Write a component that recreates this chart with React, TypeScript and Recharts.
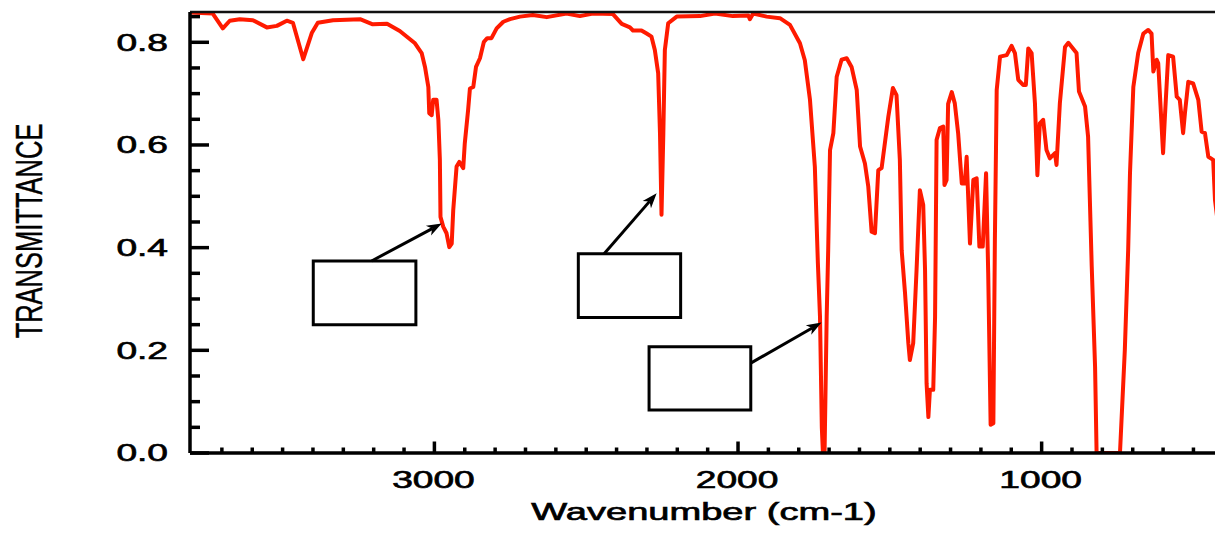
import React from 'react';
import { LineChart, Line, XAxis, YAxis, ReferenceArea, ReferenceLine } from 'recharts';

// Wavenumber (cm-1), left to right
const wavenumbers = [
  3805, 3730, 3697, 3674, 3641, 3598, 3552, 3519, 3486, 3466, 3432, 3404, 3384, 3334, 3245, 3203, 3156, 3114,
  3064, 3042, 3031, 3020, 3017, 3009, 3004, 2993, 2987, 2982, 2980, 2971, 2960, 2951, 2943, 2938, 2927, 2918,
  2905, 2900, 2889, 2883, 2872, 2863, 2850, 2837, 2826, 2812, 2795, 2773, 2751, 2718, 2676, 2630, 2565, 2521,
  2478, 2412, 2383, 2356, 2346, 2318, 2301, 2285, 2274, 2263, 2257, 2252, 2246, 2241, 2230, 2202, 2125, 2076,
  2017, 1966, 1961, 1950, 1906, 1862, 1829, 1796, 1780, 1763, 1747, 1737, 1730, 1724, 1720, 1715, 1708, 1703,
  1697, 1686, 1675, 1659, 1642, 1626, 1609, 1598, 1582, 1571, 1560, 1549, 1538, 1527, 1505, 1490, 1478, 1467,
  1461, 1450, 1439, 1434, 1423, 1412, 1401, 1390, 1384, 1379, 1373, 1368, 1357, 1351, 1346, 1335, 1324, 1320,
  1313, 1308, 1296, 1286, 1275, 1263, 1253, 1247, 1236, 1225, 1214, 1205, 1194, 1183, 1176, 1168, 1159, 1154,
  1148, 1137, 1115, 1099, 1088, 1077, 1061, 1052, 1044, 1033, 1022, 1014, 1006, 995, 984, 973, 956, 951,
  940, 923, 912, 885, 877, 857, 847, 835, 824, 819, 742, 726, 715, 709, 698, 682, 665, 649,
  638, 632, 621, 616, 600, 594, 583, 567, 555, 545, 534, 528, 517, 501, 484, 473, 462, 451,
  435, 429, 420,
];

// Transmittance at each wavenumber
const transmittance = [
  0.858, 0.856, 0.827, 0.842, 0.845, 0.843, 0.829, 0.832, 0.842, 0.838, 0.767, 0.818, 0.838, 0.843, 0.845, 0.835, 0.836, 0.822,
  0.798, 0.779, 0.752, 0.713, 0.662, 0.658, 0.688, 0.688, 0.649, 0.571, 0.46, 0.441, 0.428, 0.401, 0.408, 0.473, 0.558, 0.567,
  0.555, 0.603, 0.668, 0.71, 0.713, 0.752, 0.769, 0.801, 0.808, 0.808, 0.827, 0.84, 0.845, 0.85, 0.853, 0.849, 0.856, 0.851,
  0.856, 0.855, 0.836, 0.829, 0.823, 0.823, 0.817, 0.811, 0.785, 0.74, 0.623, 0.464, 0.623, 0.785, 0.837, 0.85, 0.851, 0.856,
  0.851, 0.852, 0.845, 0.856, 0.85, 0.847, 0.834, 0.798, 0.765, 0.688, 0.558, 0.37, 0.265, 0.05, -0.005, 0.0, 0.265, 0.395,
  0.59, 0.623, 0.733, 0.766, 0.769, 0.752, 0.707, 0.597, 0.564, 0.519, 0.431, 0.428, 0.551, 0.555, 0.655, 0.711, 0.697, 0.571,
  0.395, 0.312, 0.214, 0.181, 0.214, 0.356, 0.512, 0.483, 0.356, 0.136, 0.07, 0.123, 0.123, 0.265, 0.61, 0.633, 0.636, 0.522,
  0.532, 0.68, 0.703, 0.681, 0.623, 0.525, 0.525, 0.577, 0.408, 0.532, 0.535, 0.402, 0.402, 0.545, 0.351, 0.055, 0.058, 0.415,
  0.707, 0.772, 0.775, 0.793, 0.779, 0.727, 0.717, 0.717, 0.788, 0.779, 0.681, 0.541, 0.642, 0.649, 0.59, 0.574, 0.584, 0.561,
  0.681, 0.791, 0.799, 0.779, 0.704, 0.675, 0.616, 0.363, 0.168, 0.0, 0.0, 0.201, 0.395, 0.545, 0.713, 0.779, 0.817, 0.824,
  0.817, 0.743, 0.766, 0.759, 0.584, 0.655, 0.775, 0.772, 0.694, 0.688, 0.623, 0.662, 0.723, 0.72, 0.688, 0.626, 0.623, 0.577,
  0.571, 0.493, 0.45,
];

const xDomain = [429, 3805];
const yDomain = [0, 0.859];

const xTicks = [3700, 3600, 3500, 3400, 3300, 3200, 3100, 3000, 2900, 2800, 2700, 2600, 2500, 2400, 2300, 2200, 2100, 2000,
  1900, 1800, 1700, 1600, 1500, 1400, 1300, 1200, 1100, 1000, 900, 800, 700, 600, 500];
const xLabelTicks = [3000, 2000, 1000];
const yTicks = [0, 0.05, 0.1, 0.15, 0.2, 0.25, 0.3, 0.35, 0.4, 0.45, 0.5, 0.55, 0.6, 0.65, 0.7, 0.75, 0.8, 0.85];
const yLabelTicks = [0, 0.2, 0.4, 0.6, 0.8];

const xTitle = 'Wavenumber (cm-1)';
const yTitle = 'TRANSMITTANCE';

// Empty annotation boxes (wavenumber range, transmittance range)
const boxX1 = [3399, 2526, 2293];
const boxX2 = [3061, 2189, 1958];
const boxY1 = [0.25, 0.264, 0.084];
const boxY2 = [0.374, 0.388, 0.207];

// Arrows from boxes to bands
const arrowFromX = [3207, 2441, 1958];
const arrowFromY = [0.374, 0.388, 0.175];
const arrowToX = [2976, 2268, 1725];
const arrowToY = [0.447, 0.506, 0.254];

const chartData = wavenumbers.map((w, i) => ({ wn: w, t: transmittance[i] }));

const FONT = "'Liberation Sans', Arial, Helvetica, sans-serif";
const SX = 1.58;
const RED = '#ff1a00';

const near = (a: number, b: number) => Math.abs(a - b) < 1e-6;

const textStyle = {
  fontFamily: FONT,
  fontSize: 23.5,
  fill: '#000',
  stroke: '#000',
  strokeWidth: 0.65,
};

function XTick(props: any) {
  const { x, y, payload } = props;
  const v = payload.value as number;
  const major = xLabelTicks.some((m) => near(m, v));
  return (
    <g>
      <line x1={x} y1={y} x2={x} y2={y - (major ? 11.5 : 5.5)} stroke="#000" strokeWidth={3.5} />
      {major && (
        <text transform={`translate(${x - 1},${y + 35}) scale(${SX},1)`} textAnchor="middle" {...textStyle}>
          {String(v)}
        </text>
      )}
    </g>
  );
}

function YTick(props: any) {
  const { x, y, payload } = props;
  const v = payload.value as number;
  const major = yLabelTicks.some((m) => near(m, v));
  return (
    <g>
      <line x1={x} y1={y} x2={x + (major ? 19 : 10)} y2={y} stroke="#000" strokeWidth={3.5} />
      {major && (
        <text transform={`translate(${x - 22},${y + 8.3}) scale(${SX},1)`} textAnchor="end" {...textStyle}>
          {v.toFixed(1)}
        </text>
      )}
    </g>
  );
}

function XTitle(props: any) {
  const vb = props.viewBox || { x: 190, y: 453, width: 1025, height: 80 };
  const cx = vb.x + vb.width / 2 + 1.5;
  return (
    <text transform={`translate(${cx},${vb.y + 67}) scale(1.62,1)`} textAnchor="middle" {...textStyle}>
      {xTitle}
    </text>
  );
}

function YTitle(props: any) {
  const vb = props.viewBox || { x: 0, y: 12, width: 190, height: 441 };
  const cy = vb.y + vb.height / 2 - 1.5;
  return (
    <text
      transform={`translate(41.5,${cy}) scale(1.46,1) rotate(-90)`}
      textAnchor="middle"
      fontFamily={FONT}
      fontSize={25.5}
      fill="#000"
      stroke="#000"
      strokeWidth={0.3}
    >
      {yTitle}
    </text>
  );
}

function ArrowShape(props: any) {
  const { x1, y1, x2, y2 } = props;
  const ang = Math.atan2(y2 - y1, x2 - x1);
  const c = Math.cos(ang);
  const s = Math.sin(ang);
  const L = 15;
  const W = 5.5;
  const bx = x2 - L * c;
  const by = y2 - L * s;
  const nx = x2 - L * 0.72 * c;
  const ny = y2 - L * 0.72 * s;
  const pts = [
    [x2, y2],
    [bx - W * s, by + W * c],
    [nx, ny],
    [bx + W * s, by - W * c],
  ]
    .map((p) => p.join(','))
    .join(' ');
  return (
    <g>
      <line x1={x1} y1={y1} x2={nx} y2={ny} stroke="#000" strokeWidth={3} />
      <polygon points={pts} fill="#000" />
    </g>
  );
}

export default function App() {
  return (
    <div style={{ position: 'absolute', left: 0, top: 0, width: 1215, height: 533, overflow: 'hidden', background: '#fff' }}>
      <LineChart width={1215} height={533} data={chartData} margin={{ top: 12, right: 0, bottom: 0, left: 0 }}>
        <Line
          type="linear"
          dataKey="t"
          stroke={RED}
          strokeWidth={4}
          strokeLinejoin="round"
          dot={false}
          activeDot={false}
          isAnimationActive={false}
        />
        {boxX1.map((bx, i) => (
          <ReferenceArea
            key={`box${i}`}
            x1={bx}
            x2={boxX2[i]}
            y1={boxY1[i]}
            y2={boxY2[i]}
            fill="none"
            fillOpacity={0}
            stroke="#000"
            strokeWidth={3}
            ifOverflow="visible"
          />
        ))}
        {arrowFromX.map((ax, i) => (
          <ReferenceLine
            key={`arrow${i}`}
            segment={[
              { x: ax, y: arrowFromY[i] },
              { x: arrowToX[i], y: arrowToY[i] },
            ]}
            ifOverflow="visible"
            shape={ArrowShape}
          />
        ))}
        <ReferenceLine y={yDomain[1]} stroke="#111" strokeWidth={2.5} ifOverflow="visible" />
        <XAxis
          dataKey="wn"
          type="number"
          domain={xDomain}
          allowDataOverflow
          reversed
          ticks={xTicks}
          interval={0}
          tickLine={false}
          tickSize={0}
          tickMargin={0}
          tick={<XTick />}
          axisLine={{ stroke: '#000', strokeWidth: 3.5 }}
          height={80}
          label={{ content: <XTitle /> } as any}
        />
        <YAxis
          type="number"
          domain={yDomain}
          allowDataOverflow
          ticks={yTicks}
          interval={0}
          tickLine={false}
          tickSize={0}
          tickMargin={0}
          tick={<YTick />}
          axisLine={{ stroke: '#000', strokeWidth: 3.5 }}
          width={190}
          label={{ content: <YTitle /> } as any}
        />
      </LineChart>
    </div>
  );
}
